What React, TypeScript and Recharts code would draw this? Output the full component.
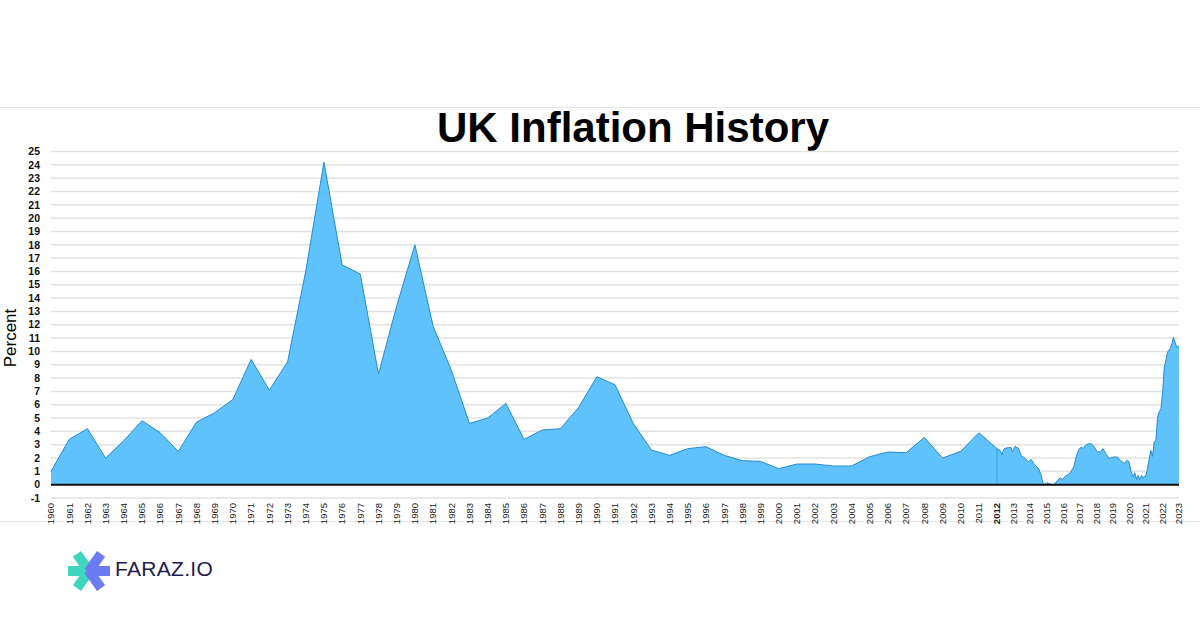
import { Area, AreaChart, CartesianGrid, ReferenceLine, XAxis, YAxis } from "recharts"

// annual CPI inflation, 1960-2012 (percent)
const annualYears = [
  1960, 1961, 1962, 1963, 1964, 1965, 1966, 1967, 1968, 1969, 1970, 1971, 1972, 1973, 1974, 1975, 1976, 1977,
  1978, 1979, 1980, 1981, 1982, 1983, 1984, 1985, 1986, 1987, 1988, 1989, 1990, 1991, 1992, 1993, 1994, 1995,
  1996, 1997, 1998, 1999, 2000, 2001, 2002, 2003, 2004, 2005, 2006, 2007, 2008, 2009, 2010, 2011, 2012,
]
const annualInflation = [
  1.0, 3.4, 4.2, 2.0, 3.3, 4.8, 3.9, 2.5, 4.7, 5.4, 6.4, 9.4, 7.1, 9.2, 16.0, 24.2, 16.5, 15.8,
  8.3, 13.4, 18.0, 11.9, 8.6, 4.6, 5.0, 6.1, 3.4, 4.1, 4.2, 5.8, 8.1, 7.5, 4.6, 2.6, 2.2, 2.7,
  2.85, 2.2, 1.8, 1.75, 1.2, 1.55, 1.55, 1.4, 1.4, 2.1, 2.45, 2.4, 3.55, 2.0, 2.5, 3.9, 2.7,
]

// monthly readings from 2012 on (decimal year, percent)
const monthlyTimes = [
  2012.18, 2012.29, 2012.43, 2012.69, 2012.85, 2012.93, 2013.09, 2013.3, 2013.44, 2013.7, 2013.9,
  2014.05, 2014.21, 2014.37, 2014.51, 2014.66, 2014.78, 2014.86, 2015.02, 2015.22, 2015.38, 2015.46,
  2015.67, 2015.83, 2015.97, 2016.13, 2016.33, 2016.48, 2016.64, 2016.78, 2016.94, 2017.09, 2017.21,
  2017.35, 2017.55, 2017.76, 2017.9, 2018.06, 2018.26, 2018.4, 2018.57, 2018.77, 2018.91, 2019.07,
  2019.28, 2019.42, 2019.58, 2019.72, 2019.84, 2019.98, 2020.09, 2020.23, 2020.33, 2020.43, 2020.53,
  2020.63, 2020.74, 2020.83, 2021.0, 2021.1, 2021.2, 2021.3, 2021.4, 2021.5, 2021.6, 2021.71, 2021.8,
  2021.91, 2022.01, 2022.11, 2022.17, 2022.31, 2022.46, 2022.58, 2022.66, 2022.76, 2022.86, 2022.96,
  2023.0,
]
const monthlyInflation = [
  2.58, 2.26, 2.71, 2.78, 2.78, 2.46, 2.88, 2.71, 2.21, 1.96, 1.71,
  1.91, 1.59, 1.39, 1.21, 0.71, 0.09, 0.04, 0.14, 0.05, -0.06, 0.04,
  0.34, 0.51, 0.39, 0.64, 0.76, 1.01, 1.34, 2.08, 2.63, 2.83, 2.71,
  2.96, 3.08, 3.03, 2.78, 2.46, 2.46, 2.71, 2.33, 1.96, 2.03, 2.08,
  2.08, 1.83, 1.71, 1.59, 1.83, 1.71, 1.01, 0.59, 0.89, 0.39, 0.69,
  0.39, 0.71, 0.51, 0.71, 1.21, 1.96, 2.56, 2.13, 3.21, 3.33, 5.08, 5.46,
  5.71, 6.96, 8.83, 9.08, 9.95, 10.2, 10.6, 11.07, 10.7, 10.3, 10.4,
  10.37,
]

const monthlyYearLabels = [2013, 2014, 2015, 2016, 2017, 2018, 2019, 2020, 2021, 2022, 2023]
const yTicks = [-1, 0, 1, 2, 3, 4, 5, 6, 7, 8, 9, 10, 11, 12, 13, 14, 15, 16, 17, 18, 19, 20, 21, 22, 23, 24, 25]

// the source axis squeezes the monthly years a little tighter than the annual ones
const SPLIT_YEAR = 2012
const MONTHLY_STRETCH = 0.909
const toAxis = (t: number) => (t <= SPLIT_YEAR ? t - 1960 : SPLIT_YEAR - 1960 + (t - SPLIT_YEAR) * MONTHLY_STRETCH)
const fromAxis = (p: number) =>
  p <= SPLIT_YEAR - 1960 ? 1960 + p : SPLIT_YEAR + (p - (SPLIT_YEAR - 1960)) / MONTHLY_STRETCH

const chartData = [
  ...annualYears.map((year, i) => ({ pos: toAxis(year), value: annualInflation[i] })),
  ...monthlyTimes.map((t, i) => ({ pos: toAxis(t), value: monthlyInflation[i] })),
]
const xTicks = [...annualYears, ...monthlyYearLabels].map(toAxis)
const splitValue = annualInflation[annualInflation.length - 1]

const FONT = "'Liberation Sans', Arial, Helvetica, sans-serif"

function YearTick({ x, y, payload }: any) {
  const year = Math.round(fromAxis(payload.value))
  return (
    <text
      transform={`translate(${x},${y}) rotate(-90)`}
      textAnchor="end"
      dy="0.35em"
      fontSize={9.5}
      fontWeight={year === SPLIT_YEAR ? 700 : 400}
      fill="#222"
      fontFamily={FONT}
    >
      {year}
    </text>
  )
}

function Logo() {
  const arms = [
    { angle: 180, color: "#3ed6bf" },
    { angle: 235, color: "#3ed6bf" },
    { angle: 125, color: "#3ed6bf" },
    { angle: 0, color: "#6c7bf2" },
    { angle: -55, color: "#6c7bf2" },
    { angle: 55, color: "#6c7bf2" },
  ]
  return (
    <svg width={48} height={48} viewBox="-24 -24 48 48" style={{ position: "absolute", left: 65, top: 547 }}>
      {arms.map((a, i) => (
        <rect key={i} x={-1} y={-5} width={22} height={10} fill={a.color} transform={`rotate(${a.angle})`} />
      ))}
    </svg>
  )
}

export default function App() {
  return (
    <div style={{ position: "absolute", left: 0, top: 0, width: 1200, height: 630, background: "#fff", fontFamily: FONT }}>
      <div
        style={{
          position: "absolute",
          left: 0,
          top: 107,
          width: 1200,
          height: 413,
          borderTop: "1px solid #e6e6e6",
          borderBottom: "1px solid #e6e6e6",
        }}
      />
      <div
        style={{
          position: "absolute",
          left: 333,
          top: 107,
          width: 600,
          textAlign: "center",
          fontSize: 42,
          lineHeight: 1,
          fontWeight: 700,
          color: "#000",
        }}
      >
        UK Inflation History
      </div>
      <div
        style={{
          position: "absolute",
          left: 11,
          top: 338,
          fontSize: 17,
          color: "#000",
          transform: "translate(-50%, -50%) rotate(-90deg)",
          whiteSpace: "nowrap",
        }}
      >
        Percent
      </div>
      <div style={{ position: "absolute", left: 0, top: 0 }}>
        <AreaChart width={1200} height={630} data={chartData} margin={{ top: 151.5, right: 0, bottom: 102, left: 6 }}>
          <CartesianGrid yAxisId="left" vertical={false} stroke="#e2e2e2" strokeWidth={1.5} />
          <XAxis
            dataKey="pos"
            type="number"
            domain={[0, toAxis(2023)]}
            ticks={xTicks}
            interval={0}
            height={30}
            axisLine={false}
            tickLine={false}
            tickSize={0}
            tickMargin={5}
            tick={<YearTick />}
          />
          <YAxis
            yAxisId="left"
            domain={[-1, 25]}
            ticks={yTicks}
            interval={0}
            width={45}
            axisLine={false}
            tickLine={false}
            tickSize={0}
            tickMargin={11}
            tick={{ fontSize: 10.5, fontWeight: 700, fill: "#111", fontFamily: FONT }}
          />
          <YAxis
            yAxisId="right"
            orientation="right"
            domain={[-1, 25]}
            ticks={yTicks}
            interval={0}
            width={21}
            axisLine={false}
            tickLine={false}
            tickSize={0}
            tickMargin={7}
            tick={{ fontSize: 10.5, fontWeight: 700, fill: "#111", fontFamily: FONT, textAnchor: "start" }}
          />
          <Area
            yAxisId="left"
            type="linear"
            dataKey="value"
            baseValue={0}
            stroke="#2689d6"
            strokeWidth={1}
            fill="#5fc2fb"
            fillOpacity={1}
            isAnimationActive={false}
          />
          <ReferenceLine
            yAxisId="left"
            segment={[
              { x: toAxis(SPLIT_YEAR), y: 0 },
              { x: toAxis(SPLIT_YEAR), y: splitValue },
            ]}
            stroke="#3a9fe4"
            strokeWidth={1}
          />
          <ReferenceLine yAxisId="left" y={0} stroke="#111" strokeWidth={2} />
        </AreaChart>
      </div>
      <Logo />
      <div
        style={{
          position: "absolute",
          left: 115,
          top: 558,
          fontSize: 21,
          lineHeight: 1,
          color: "#1f1d4d",
          letterSpacing: 0.3,
        }}
      >
        FARAZ.IO
      </div>
    </div>
  )
}
